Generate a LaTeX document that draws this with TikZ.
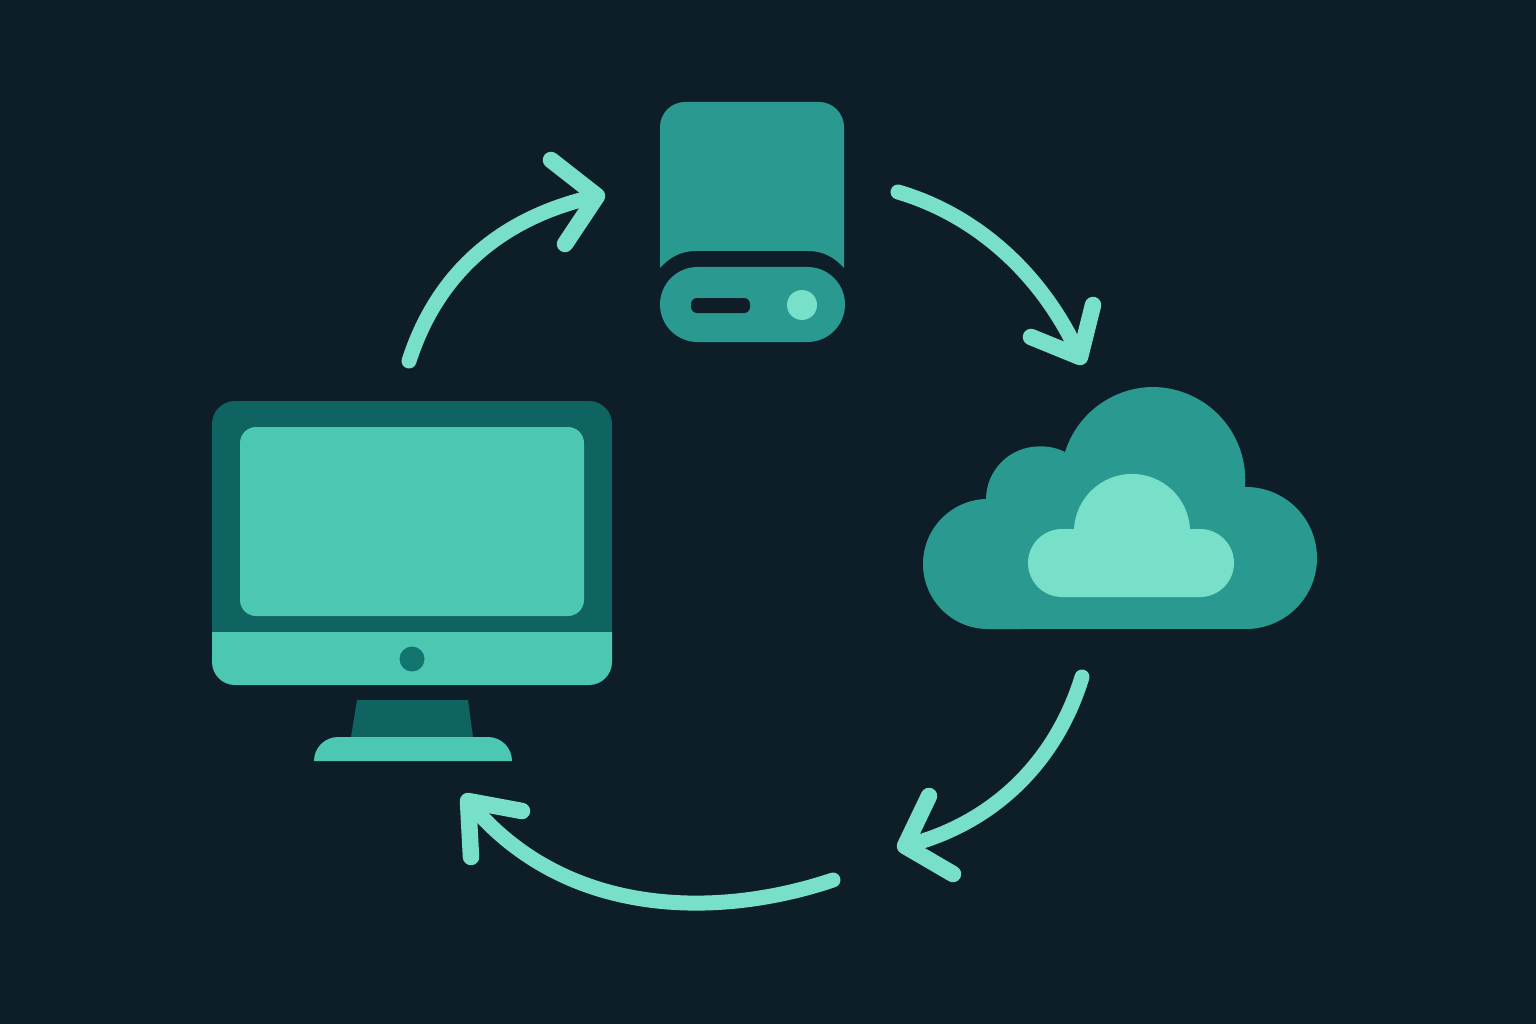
\documentclass[tikz,border=0pt]{standalone}
\usetikzlibrary{svg.path}
\definecolor{bgc}{HTML}{0E1E29}
\definecolor{midteal}{HTML}{2A9A90}
\definecolor{mint}{HTML}{78E0C8}
\definecolor{darkteal}{HTML}{0F6360}
\definecolor{screenteal}{HTML}{4CC7B2}
\definecolor{dotteal}{HTML}{12756F}
\tikzset{
  flow/.style={draw=mint,line width=15pt,line cap=round,line join=round},
  flowhead/.style={flow,line width=16.5pt},
  flat/.style={yscale=-1}
}
\begin{document}
\begin{tikzpicture}[x=1pt,y=-1pt]
\fill[bgc] (0,0) rectangle (1536,1024);
\useasboundingbox (0,0) rectangle (1536,1024);
% monitor
\fill[darkteal,flat] svg {M 212 632 L 212 424 A 23 23 0 0 1 235 401 L 589 401 A 23 23 0 0 1 612 424 L 612 632 Z};
\fill[screenteal,flat] svg {M 212 632 L 612 632 L 612 662 A 23 23 0 0 1 589 685 L 235 685 A 23 23 0 0 1 212 662 Z};
\fill[screenteal,rounded corners=16pt] (240,427) rectangle (584,616);
\fill[dotteal] (412,659) circle[radius=12.5];
\fill[darkteal] (357,700) -- (468,700) -- (473,737) -- (351,737) -- cycle;
\fill[screenteal,flat] svg {M 314 761 A 24 24 0 0 1 338 737 L 488 737 A 24 24 0 0 1 512 761 Z};
% server
\fill[midteal,flat] svg {M 660 268 L 660 127 A 25 25 0 0 1 685 102 L 819 102 A 25 25 0 0 1 844 127 L 844 268 C 835 258 824 251 808 251 L 696 251 C 680 251 669 258 660 268 Z};
\fill[midteal,rounded corners=37.5pt] (660,267) rectangle (845,342);
\fill[bgc,rounded corners=6pt] (691,298) rectangle (750,313);
\fill[mint] (802,305) circle[radius=15];
% cloud
\fill[midteal,flat] svg {M 987 629 A 65 65 0 0 1 923 564 A 65 65 0 0 1 986 499 A 53 53 0 0 1 1038 447 A 53 53 0 0 1 1065 452 A 93 93 0 0 1 1152 387 A 93 93 0 0 1 1245 487 A 71 71 0 0 1 1317 558 A 71 71 0 0 1 1247 629 Z};
\fill[mint,flat] svg {M 1062 597 A 34 34 0 0 1 1028 563 A 34 34 0 0 1 1062 529 L 1074 529 A 58 58 0 0 1 1132 474 A 58 58 0 0 1 1190 529 L 1200 529 A 34 34 0 0 1 1234 563 A 34 34 0 0 1 1200 597 Z};
% arrows
\coordinate (a1s) at (409,361); \coordinate (a1e) at (597,196);
\coordinate (a2s) at (898,192); \coordinate (a2e) at (1080,357);
\coordinate (a3s) at (1082,677); \coordinate (a3e) at (905,846);
\coordinate (a4s) at (833,880); \coordinate (a4e) at (468,801);
\draw[flow] (a1s) .. controls (440,265) and (510,215) .. (a1e);
\draw[flowhead] (551,160) -- (a1e) -- (565,244);
\draw[flow] (a2s) .. controls (970,213) and (1040,268) .. (a2e);
\draw[flowhead] (1093,305) -- (a2e) -- (1031,337);
\draw[flow] (a3s) .. controls (1055,765) and (990,825) .. (a3e);
\draw[flowhead] (929,796) -- (a3e) -- (953,874);
\draw[flow] (a4s) .. controls (720,918) and (565,920) .. (a4e);
\draw[flowhead] (522,811) -- (a4e) -- (471,857);
\end{tikzpicture}
\end{document}
